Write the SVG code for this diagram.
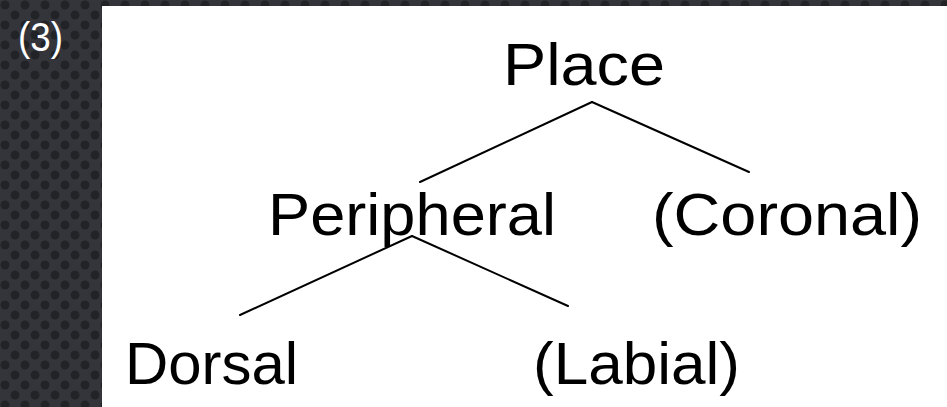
<svg xmlns="http://www.w3.org/2000/svg" width="947" height="407" viewBox="0 0 947 407">
<defs>
<pattern id="dots" x="0" y="0" width="20" height="20" patternUnits="userSpaceOnUse">
<rect width="20" height="20" fill="#33353a"/>
<circle cx="5" cy="5" r="4.5" fill="#222326"/>
<circle cx="15" cy="15" r="4.5" fill="#222326"/>
</pattern>
<style>
.lbl{font-family:"Liberation Sans",Arial,sans-serif;font-size:60px;fill:#000}
.edge{stroke:#000;stroke-width:2;fill:none;stroke-linecap:round}
</style>
</defs>
<rect width="947" height="407" fill="url(#dots)"/>
<rect x="102" y="6" width="845" height="401" fill="#fff"/>
<text x="18" y="51" font-family="Liberation Sans,Arial,sans-serif" font-size="40" fill="#fff" textLength="45" lengthAdjust="spacingAndGlyphs">(3)</text>
<g id="connectors">
<line class="edge" x1="592" y1="102" x2="420" y2="182"/>
<line class="edge" x1="592" y1="102" x2="749" y2="172"/>
<line class="edge" x1="412" y1="236" x2="240" y2="315"/>
<line class="edge" x1="412" y1="236" x2="568" y2="306"/>
</g>
<g id="place"><text class="lbl" x="503" y="85" textLength="162" lengthAdjust="spacingAndGlyphs">Place</text></g>
<g id="peripheral"><text class="lbl" x="268" y="235" textLength="288" lengthAdjust="spacingAndGlyphs">Peripheral</text></g>
<g id="coronal"><text class="lbl" x="652" y="235" textLength="270" lengthAdjust="spacingAndGlyphs">(Coronal)</text></g>
<g id="dorsal"><text class="lbl" x="125" y="384" textLength="173" lengthAdjust="spacingAndGlyphs">Dorsal</text></g>
<g id="labial"><text class="lbl" x="533" y="384" textLength="207" lengthAdjust="spacingAndGlyphs">(Labial)</text></g>
</svg>
